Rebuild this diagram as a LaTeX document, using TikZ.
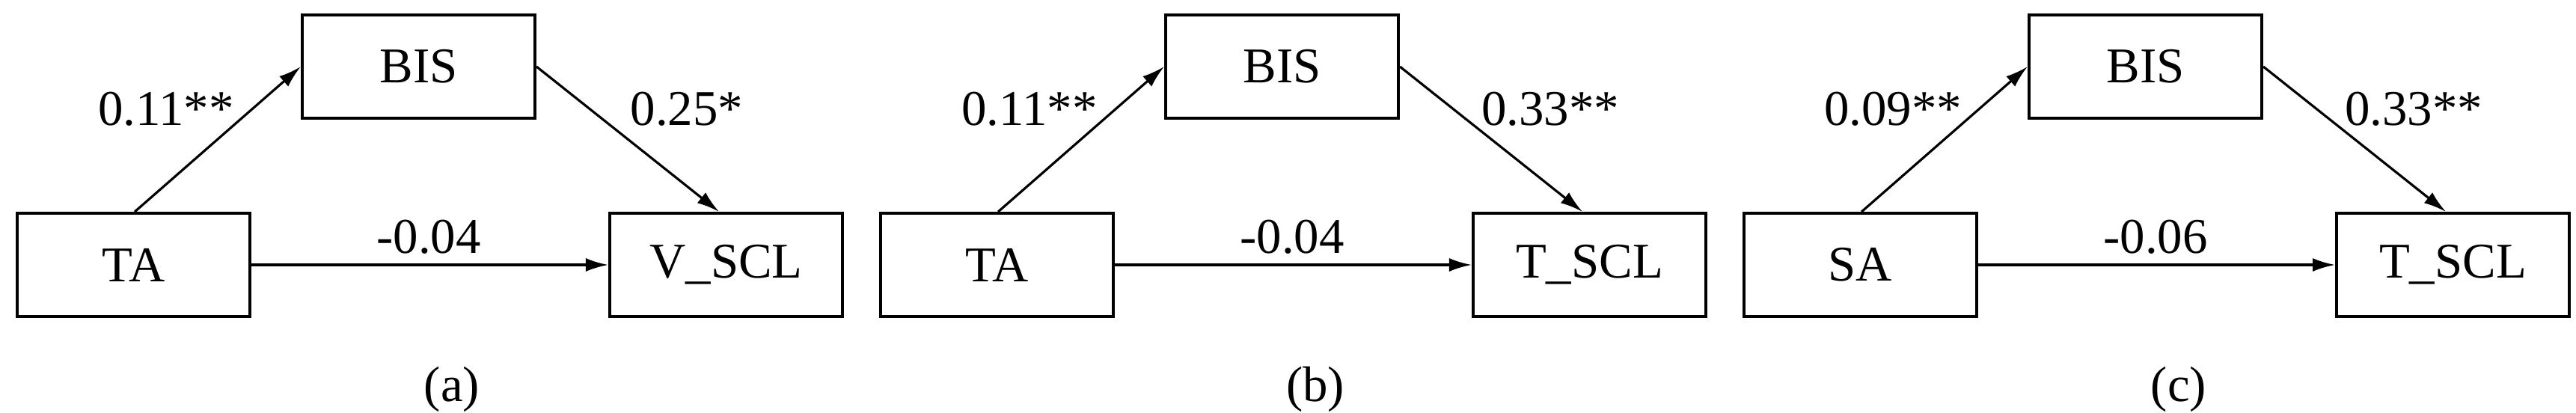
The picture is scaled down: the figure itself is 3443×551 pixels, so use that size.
\documentclass[tikz,border=0pt]{standalone}
\usepackage{fontspec}
\setmainfont{Liberation Serif}
\usetikzlibrary{arrows.meta}
\begin{document}
\begin{tikzpicture}[x=0.01cm,y=-0.01cm,
  box/.style={draw,line width=1.1pt,minimum width=3.11cm,minimum height=1.38cm,inner sep=0pt,font=\fontsize{19}{22}\selectfont},
  lab/.style={font=\fontsize{19}{22}\selectfont,inner sep=0pt},
  arr/.style={line width=0.9pt,-{Latex[length=0.3cm,width=0.18cm]}}]
\useasboundingbox (0,0) rectangle (3443,551);
\foreach \dx/\l/\r/\a/\b/\c/\cap [count=\i] in {
  0/TA/V\_SCL/0.11**/0.25*/-0.04/(a),
  1154/TA/T\_SCL/0.11**/0.33**/-0.04/(b),
  2308/SA/T\_SCL/0.09**/0.33**/-0.06/(c)} {
  \begin{scope}[xshift=\dx*0.01cm]
  \node[box] (l\i) at (178.5,354) {\l};
  \node[box] (m\i) at (559.5,89) {BIS};
  \node[box] (r\i) at (970.5,354) {\r};
  \coordinate (s\i) at ([xshift=1.59cm]l\i.north west);
  \coordinate (t\i) at ([xshift=1.48cm]r\i.north west);
  \draw[arr] (s\i) -- (m\i.west);
  \draw[arr] (m\i.east) -- (t\i);
  \draw[arr] (l\i.east) -- (r\i.west);
  \node[lab] (pa\i) at (222,146) {\a};
  \node[lab] (pb\i) at (918,146) {\b};
  \node[lab] (pc\i) at (573,317) {\c};
  \node[lab] (cap\i) at (604,520) {\cap};
  \end{scope}
}
\end{tikzpicture}
\end{document}
